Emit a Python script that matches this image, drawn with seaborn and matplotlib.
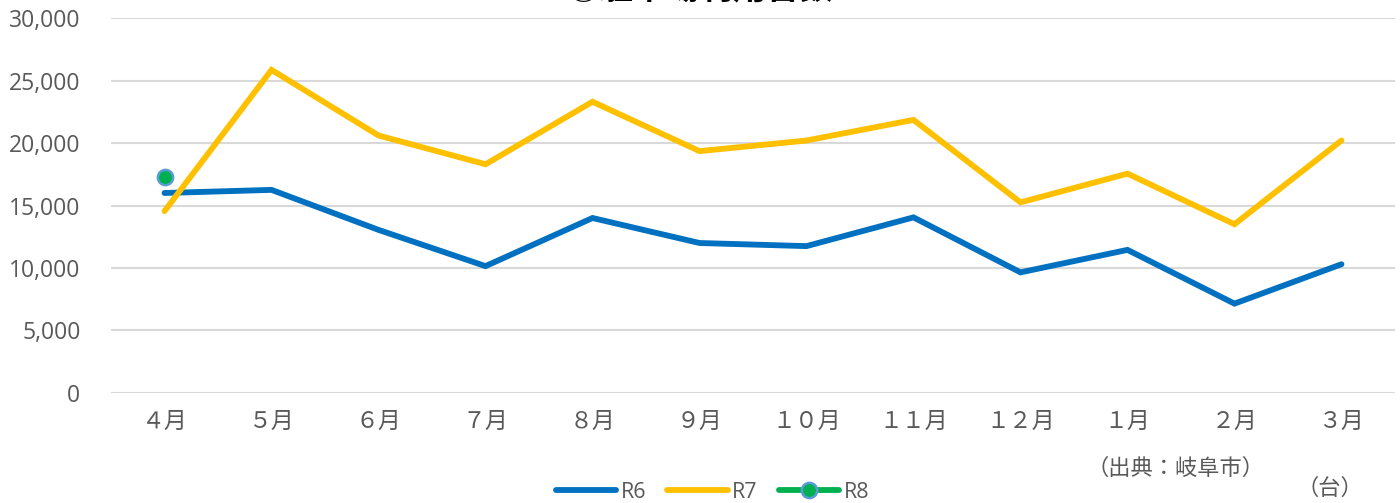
import seaborn as sns
import pandas as pd
import matplotlib.pyplot as plt
from matplotlib.ticker import FuncFormatter

# monthly vehicle counts (台)
months = ['４月', '５月', '６月', '７月', '８月', '９月', '１０月', '１１月', '１２月', '１月', '２月', '３月']
r6 = [16000, 16250, 13050, 10150, 14000, 12000, 11750, 14050, 9650, 11450, 7150, 10300]
r7 = [14550, 25850, 20600, 18300, 23300, 19350, 20200, 21850, 15250, 17550, 13500, 20200]
r8 = [17250]

sns.set_theme(style='white')
plt.rcParams['font.family'] = ['Noto Sans CJK JP', 'DejaVu Sans']

fig = plt.figure(figsize=(14, 5.03), dpi=100)
ax = fig.add_axes([0.0793, 0.2187, 0.9171, 0.7455])

x = list(range(len(months)))
df6 = pd.DataFrame({'x': x, 'y': r6})
df7 = pd.DataFrame({'x': x, 'y': r7})
df8 = pd.DataFrame({'x': x[:len(r8)], 'y': r8})

sns.lineplot(data=df6, x='x', y='y', ax=ax, color='#0070C0', lw=4.2, label='R6',
             solid_capstyle='round', solid_joinstyle='miter')
sns.lineplot(data=df7, x='x', y='y', ax=ax, color='#FFC000', lw=4.2, label='R7',
             solid_capstyle='round', solid_joinstyle='miter')
sns.lineplot(data=df8, x='x', y='y', ax=ax, color='#00B050', lw=4.2, label='R8',
             marker='o', markersize=11, markerfacecolor='#00B050',
             markeredgecolor='#5B9BD5', markeredgewidth=1.8)

ax.set_xlim(-0.5, len(months) - 0.5)
ax.set_ylim(0, 30000)
ax.set_yticks(range(0, 30001, 5000))
ax.yaxis.set_major_formatter(FuncFormatter(lambda v, p: f'{int(v):,}'))
ax.set_xticks(x)
ax.set_xticklabels(months, color='#595959', fontsize=16.5)
for t in ax.get_yticklabels():
    t.set_color('#595959')
    t.set_fontsize(16.5)
    t.set_family(['Open Sans', 'DejaVu Sans'])
ax.tick_params(axis='y', length=0, pad=22)
ax.tick_params(axis='x', length=0, pad=12)
ax.grid(axis='y', color='#D9D9D9', lw=1.5)
ax.set_axisbelow(True)
for s in ax.spines.values():
    s.set_visible(False)
ax.set_xlabel('')
ax.set_ylabel('')

fig.text(0.5, 1.021, '③駐車場利用台数', ha='center', va='center', fontsize=24,
         fontweight='bold', color='black')
fig.text(0.8393, 0.068, '（出典：岐阜市）', ha='center', va='center', fontsize=16, color='#595959')
fig.text(0.9500, 0.030, '（台）', ha='center', va='center', fontsize=16, color='#595959')

ax.get_legend().remove()
leg = fig.legend(*ax.get_legend_handles_labels(), loc='center',
                 bbox_to_anchor=(0.509, 0.021), ncol=3, frameon=False,
                 handlelength=2.8, columnspacing=1.0, handletextpad=0.2,
                 prop={'family': ['Open Sans', 'DejaVu Sans'], 'size': 15.5})
for t in leg.get_texts():
    t.set_color('#595959')

fig.savefig('out.png', dpi=100)
